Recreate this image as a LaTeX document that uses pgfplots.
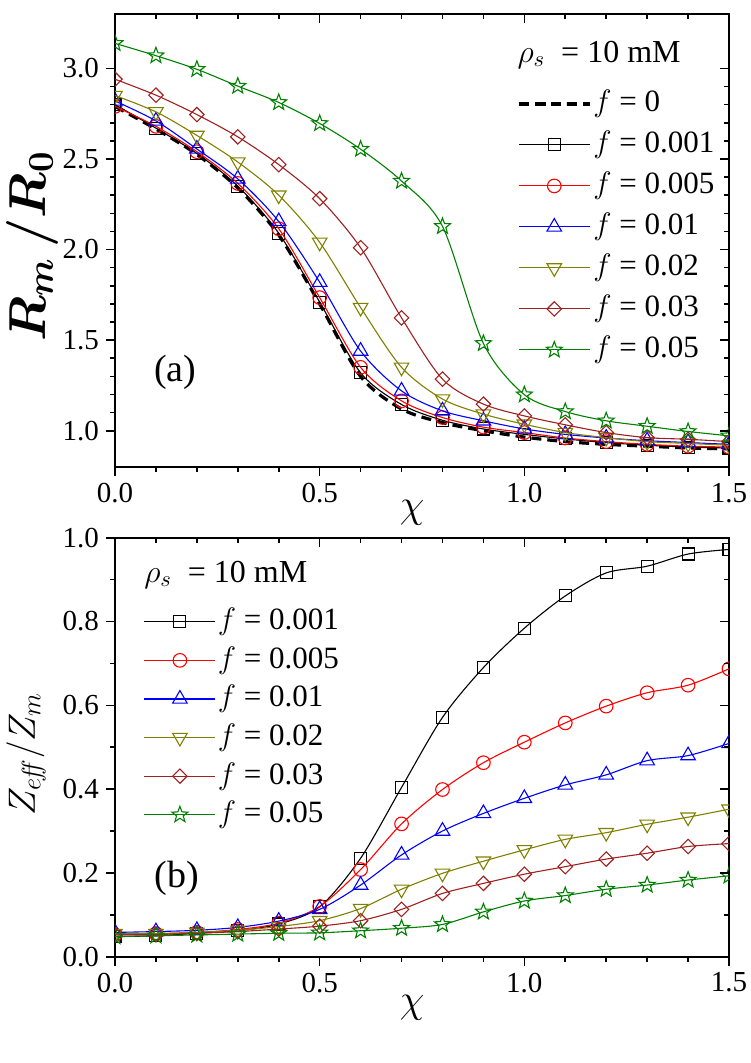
\RequirePackage{fix-cm}
\documentclass[border=0pt]{standalone}
\usepackage{fontspec}
\setmainfont{Liberation Serif}
\usepackage{pgfplots}
\usepackage{pgfplotstable}
\pgfplotsset{compat=1.18}

\definecolor{cred}{RGB}{255,0,0}
\definecolor{cblue}{RGB}{0,0,255}
\definecolor{colive}{RGB}{128,128,0}
\definecolor{cwine}{RGB}{160,32,32}
\definecolor{cgreen}{RGB}{0,128,0}

\pgfdeclareplotmark{ostar}{%
  \pgfpathmoveto{\pgfpointpolar{90}{\pgfplotmarksize}}%
  \pgfpathlineto{\pgfpointpolar{126}{0.42\pgfplotmarksize}}%
  \pgfpathlineto{\pgfpointpolar{162}{\pgfplotmarksize}}%
  \pgfpathlineto{\pgfpointpolar{198}{0.42\pgfplotmarksize}}%
  \pgfpathlineto{\pgfpointpolar{234}{\pgfplotmarksize}}%
  \pgfpathlineto{\pgfpointpolar{270}{0.42\pgfplotmarksize}}%
  \pgfpathlineto{\pgfpointpolar{306}{\pgfplotmarksize}}%
  \pgfpathlineto{\pgfpointpolar{342}{0.42\pgfplotmarksize}}%
  \pgfpathlineto{\pgfpointpolar{18}{\pgfplotmarksize}}%
  \pgfpathlineto{\pgfpointpolar{54}{0.42\pgfplotmarksize}}%
  \pgfpathclose
  \pgfusepathqstroke
}

\pgfplotsset{
  base/.style={
    scale only axis, width=307pt,
    xmin=0, xmax=1.5,
    xtick={0,0.5,1,1.5}, minor x tick num=4,
    major tick length=4.5pt, minor tick length=2.5pt,
    axis line style={line width=1pt},
    every tick/.style={line width=0.8pt, black},
    tick label style={font=\fontsize{14.5}{16}\selectfont},
    /pgf/number format/assume math mode=true,
    xticklabel style={/pgf/number format/fixed,/pgf/number format/fixed zerofill,/pgf/number format/precision=1},
    yticklabel style={/pgf/number format/fixed,/pgf/number format/fixed zerofill,/pgf/number format/precision=1},
  },
  main/.style={base, tick align=outside, xtick pos=left, ytick pos=left,
    clip marker paths=true,
    legend cell align=left,
    legend image code/.code={\draw[mark repeat=2,mark phase=2] plot coordinates {(0pt,0pt) (17.75pt,0pt) (35.5pt,0pt)};},
    legend style={draw=none, fill=none, inner sep=0pt, outer sep=0pt,
      font=\fontsize{15.5}{18}\selectfont, row sep=3.5pt,
      /tikz/every even column/.append style={column sep=2pt},
      nodes={inner sep=1pt, text height=11.5pt, text depth=3.5pt}},
  },
  over/.style={base, tick align=inside, xtick pos=right, ytick pos=right,
    xticklabels={}, yticklabels={}, axis line style={draw=none}, clip=false},
  sm/.style={smooth, tension=0.5, line width=0.55pt, mark size=3pt, mark options={solid}},
}

\begin{document}
\begin{tikzpicture}
\pgfplotstableread{
x f0 f1 f5 f10 f20 f30 f50
0.0 2.79 2.80 2.79 2.82 2.85 2.94 3.138
0.1 2.665 2.67 2.68 2.71 2.76 2.852 3.07
0.2 2.525 2.53 2.54 2.555 2.63 2.745 2.995
0.3 2.34 2.35 2.365 2.39 2.483 2.622 2.902
0.4 2.08 2.09 2.115 2.155 2.30 2.469 2.812
0.5 1.70 1.71 1.735 1.82 2.04 2.281 2.696
0.6 1.30 1.32 1.35 1.44 1.68 2.010 2.554
0.7 1.12 1.145 1.165 1.22 1.35 1.623 2.378
0.8 1.045 1.058 1.073 1.11 1.175 1.285 2.128
0.9 1.0 1.01 1.02 1.055 1.092 1.147 1.482
1.0 0.965 0.98 0.99 1.01 1.036 1.082 1.199
1.1 0.94 0.955 0.96 0.98 0.99 1.033 1.106
1.2 0.925 0.935 0.94 0.96 0.962 0.99 1.055
1.3 0.915 0.92 0.925 0.945 0.94 0.962 1.025
1.4 0.905 0.91 0.915 0.935 0.93 0.953 0.996
1.5 0.90 0.905 0.91 0.925 0.92 0.94 0.972
}\tabA
\pgfplotstableread{
x f1 f5 f10 f20 f30 f50
0.0 0.048 0.052 0.058 0.055 0.052 0.048
0.1 0.050 0.055 0.060 0.055 0.053 0.050
0.2 0.056 0.058 0.063 0.058 0.056 0.052
0.3 0.062 0.065 0.070 0.063 0.060 0.054
0.4 0.078 0.080 0.085 0.072 0.066 0.056
0.5 0.119 0.120 0.113 0.086 0.073 0.057
0.6 0.235 0.208 0.171 0.115 0.086 0.062
0.7 0.404 0.317 0.243 0.161 0.113 0.068
0.8 0.571 0.399 0.300 0.199 0.151 0.077
0.9 0.690 0.463 0.342 0.228 0.175 0.107
1.0 0.784 0.512 0.378 0.255 0.197 0.133
1.1 0.861 0.558 0.410 0.280 0.215 0.146
1.2 0.916 0.598 0.434 0.296 0.233 0.161
1.3 0.932 0.630 0.468 0.316 0.247 0.171
1.4 0.961 0.648 0.480 0.333 0.263 0.183
1.5 0.972 0.687 0.509 0.352 0.270 0.193
}\tabB

% ---------- top panel ----------
\begin{axis}[main, at={(57.5pt,-233.5pt)}, anchor=south west, height=226.5pt,
  ymin=0.8, ymax=3.3, ytick={1,1.5,2,2.5,3}, minor y tick num=4,
  legend style={at={(rel axis cs:0.655,0.839)}, anchor=north west}]
\addplot[sm, black, line width=1.6pt, dash pattern=on 5pt off 3pt] table[x=x,y=f0]{\tabA};
\addlegendentry{$f$ = 0}
\addplot[sm, black, mark=square] table[x=x,y=f1]{\tabA};
\addlegendentry{$f$ = 0.001}
\addplot[sm, cred, mark=o, mark size=3.4pt] table[x=x,y=f5]{\tabA};
\addlegendentry{$f$ = 0.005}
\addplot[sm, cblue, mark=triangle, mark size=4.2pt] table[x=x,y=f10]{\tabA};
\addlegendentry{$f$ = 0.01}
\addplot[sm, colive, mark=triangle, mark size=4.2pt, mark options={solid, rotate=180}] table[x=x,y=f20]{\tabA};
\addlegendentry{$f$ = 0.02}
\addplot[sm, cwine, mark=square, mark size=3pt, mark options={solid, rotate=45, scale=0.85}] table[x=x,y=f30]{\tabA};
\addlegendentry{$f$ = 0.03}
\addplot[sm, cgreen, mark=ostar, mark size=4.2pt] table[x=x,y=f50]{\tabA};
\addlegendentry{$f$ = 0.05}
\end{axis}
\begin{axis}[over, at={(57.5pt,-233.5pt)}, anchor=south west, height=226.5pt,
  ymin=0.8, ymax=3.3, ytick={1,1.5,2,2.5,3}, minor y tick num=4]
\node[anchor=base west, font=\fontsize{16}{18}\selectfont, inner sep=0pt] at (rel axis cs:0.655,0.894) {$\rho_s$\ \ = 10 mM};
\node[font=\fontsize{19}{20}\selectfont] at (rel axis cs:0.098,0.208) {(a)};
\node[rotate=90, font=\fontsize{26}{26}\selectfont\boldmath] at (rel axis cs:-0.135,0.487) {$R_m\,/R_0$};
\node[font=\fontsize{20}{20}\selectfont] at (rel axis cs:0.484,-0.10) {$\chi$};
\end{axis}

% ---------- bottom panel ----------
\begin{axis}[main, at={(57.5pt,-478.35pt)}, anchor=south west, height=209.5pt,
  ymin=0, ymax=1, ytick={0,0.2,0.4,0.6,0.8,1.0}, minor y tick num=1,
  legend style={at={(rel axis cs:0.047,0.840)}, anchor=north west, row sep=2.3pt}]
\addplot[sm, black, mark=square] table[x=x,y=f1]{\tabB};
\addlegendentry{$f$ = 0.001}
\addplot[sm, cred, mark=o, mark size=3.4pt] table[x=x,y=f5]{\tabB};
\addlegendentry{$f$ = 0.005}
\addplot[sm, cblue, mark=triangle, mark size=4.2pt] table[x=x,y=f10]{\tabB};
\addlegendentry{$f$ = 0.01}
\addplot[sm, colive, mark=triangle, mark size=4.2pt, mark options={solid, rotate=180}] table[x=x,y=f20]{\tabB};
\addlegendentry{$f$ = 0.02}
\addplot[sm, cwine, mark=square, mark size=3pt, mark options={solid, rotate=45, scale=0.85}] table[x=x,y=f30]{\tabB};
\addlegendentry{$f$ = 0.03}
\addplot[sm, cgreen, mark=ostar, mark size=4.2pt] table[x=x,y=f50]{\tabB};
\addlegendentry{$f$ = 0.05}
\end{axis}
\begin{axis}[over, at={(57.5pt,-478.35pt)}, anchor=south west, height=209.5pt,
  ymin=0, ymax=1, ytick={0,0.2,0.4,0.6,0.8,1.0}, minor y tick num=1]
\node[anchor=base west, font=\fontsize{16}{18}\selectfont, inner sep=0pt] at (rel axis cs:0.047,0.894) {$\rho_s$\ \ = 10 mM};
\node[font=\fontsize{19}{20}\selectfont] at (rel axis cs:0.101,0.188) {(b)};
\node[rotate=90, font=\fontsize{19}{19}\selectfont] at (rel axis cs:-0.145,0.484) {$Z_{e\!f\!\!f}/Z_m$};
\node[font=\fontsize{20}{20}\selectfont] at (rel axis cs:0.484,-0.122) {$\chi$};
\end{axis}

\pgfresetboundingbox
\path[use as bounding box] (0pt,0pt) rectangle (375pt,-531.5pt);
\end{tikzpicture}
\end{document}
